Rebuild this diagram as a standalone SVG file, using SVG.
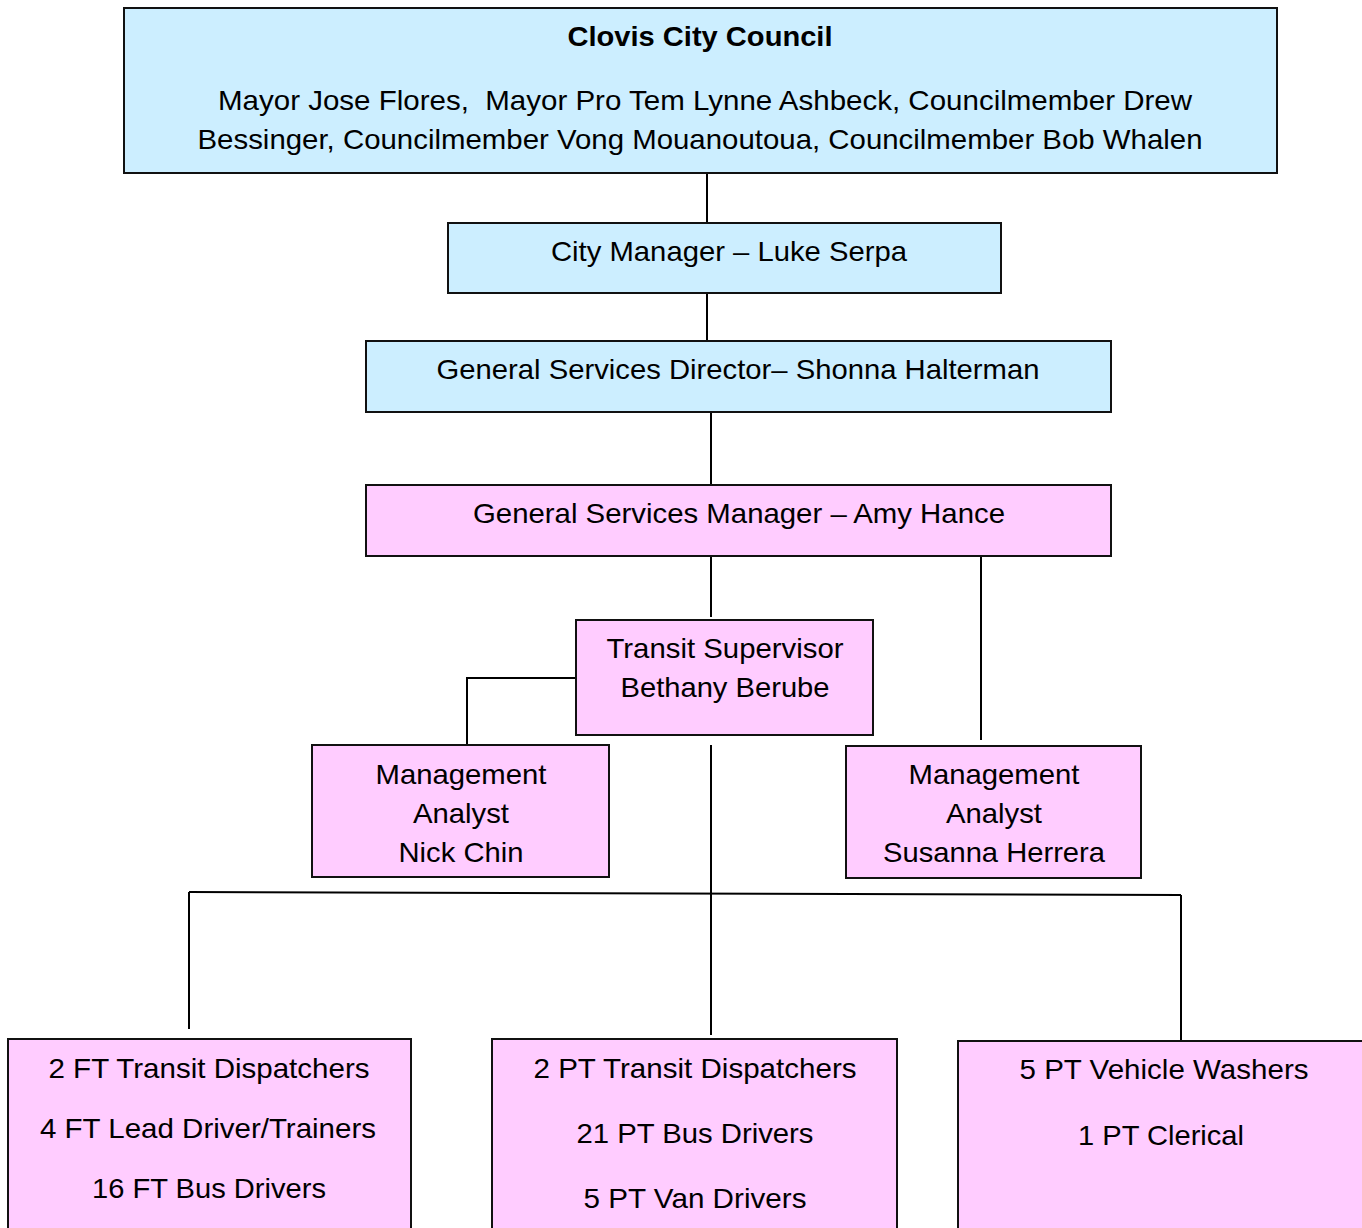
<svg xmlns="http://www.w3.org/2000/svg" width="1362" height="1228" viewBox="0 0 1362 1228">
<style>
.box{stroke:#111;stroke-width:2}
.blue{fill:#cceeff}
.pink{fill:#ffccff}
text{font-family:"Liberation Sans",Arial,sans-serif;font-size:28px;fill:#000;text-anchor:middle}
.b{font-weight:bold}
.c{stroke:#000;stroke-width:2;fill:none}
</style>
<rect width="1362" height="1228" fill="#fff"/>
<g id="connectors">
<line class="c" x1="707" y1="174" x2="707" y2="223"/>
<line class="c" x1="707" y1="293" x2="707" y2="341"/>
<line class="c" x1="711" y1="412" x2="711" y2="485"/>
<line class="c" x1="711" y1="554" x2="711" y2="617"/>
<line class="c" x1="981" y1="556" x2="981" y2="740"/>
<polyline class="c" points="576,678 467,678 467,745"/>
<line class="c" x1="711" y1="745" x2="711" y2="1035"/>
<line class="c" x1="189" y1="892" x2="1181" y2="895"/>
<line class="c" x1="189" y1="892" x2="189" y2="1029"/>
<line class="c" x1="1181" y1="895" x2="1181" y2="1040"/>
</g>
<g id="council">
<rect class="box blue" x="124" y="8" width="1153" height="165"/>
<text class="b" x="700" y="46" textLength="265" lengthAdjust="spacingAndGlyphs">Clovis City Council</text>
<text x="705" y="110" textLength="974" lengthAdjust="spacingAndGlyphs" xml:space="preserve">Mayor Jose Flores,  Mayor Pro Tem Lynne Ashbeck, Councilmember Drew</text>
<text x="700" y="149" textLength="1005" lengthAdjust="spacingAndGlyphs">Bessinger, Councilmember Vong Mouanoutoua, Councilmember Bob Whalen</text>
</g>
<g id="city-manager">
<rect class="box blue" x="448" y="223" width="553" height="70"/>
<text x="729" y="261" textLength="356" lengthAdjust="spacingAndGlyphs">City Manager – Luke Serpa</text>
</g>
<g id="gs-director">
<rect class="box blue" x="366" y="341" width="745" height="71"/>
<text x="738" y="379" textLength="603" lengthAdjust="spacingAndGlyphs">General Services Director– Shonna Halterman</text>
</g>
<g id="gs-manager">
<rect class="box pink" x="366" y="485" width="745" height="71"/>
<text x="739" y="523" textLength="532" lengthAdjust="spacingAndGlyphs">General Services Manager – Amy Hance</text>
</g>
<g id="transit-supervisor">
<rect class="box pink" x="576" y="620" width="297" height="115"/>
<text x="725" y="658" textLength="237" lengthAdjust="spacingAndGlyphs">Transit Supervisor</text>
<text x="725" y="697" textLength="209" lengthAdjust="spacingAndGlyphs">Bethany Berube</text>
</g>
<g id="analyst-chin">
<rect class="box pink" x="312" y="745" width="297" height="132"/>
<text x="461" y="784" textLength="171" lengthAdjust="spacingAndGlyphs">Management</text>
<text x="461" y="823" textLength="96" lengthAdjust="spacingAndGlyphs">Analyst</text>
<text x="461" y="862" textLength="125" lengthAdjust="spacingAndGlyphs">Nick Chin</text>
</g>
<g id="analyst-herrera">
<rect class="box pink" x="846" y="746" width="295" height="132"/>
<text x="994" y="784" textLength="171" lengthAdjust="spacingAndGlyphs">Management</text>
<text x="994" y="823" textLength="96" lengthAdjust="spacingAndGlyphs">Analyst</text>
<text x="994" y="862" textLength="222" lengthAdjust="spacingAndGlyphs">Susanna Herrera</text>
</g>
<g id="ft-staff">
<rect class="box pink" x="8" y="1039" width="403" height="200"/>
<text x="209" y="1078" textLength="321" lengthAdjust="spacingAndGlyphs">2 FT Transit Dispatchers</text>
<text x="208" y="1138" textLength="336" lengthAdjust="spacingAndGlyphs">4 FT Lead Driver/Trainers</text>
<text x="209" y="1198" textLength="234" lengthAdjust="spacingAndGlyphs">16 FT Bus Drivers</text>
</g>
<g id="pt-drivers">
<rect class="box pink" x="492" y="1039" width="405" height="200"/>
<text x="695" y="1078" textLength="323" lengthAdjust="spacingAndGlyphs">2 PT Transit Dispatchers</text>
<text x="695" y="1143" textLength="237" lengthAdjust="spacingAndGlyphs">21 PT Bus Drivers</text>
<text x="695" y="1208" textLength="223" lengthAdjust="spacingAndGlyphs">5 PT Van Drivers</text>
</g>
<g id="pt-support">
<rect class="box pink" x="958" y="1041" width="410" height="200"/>
<text x="1164" y="1079" textLength="289" lengthAdjust="spacingAndGlyphs">5 PT Vehicle Washers</text>
<text x="1161" y="1145" textLength="166" lengthAdjust="spacingAndGlyphs">1 PT Clerical</text>
</g>
</svg>
